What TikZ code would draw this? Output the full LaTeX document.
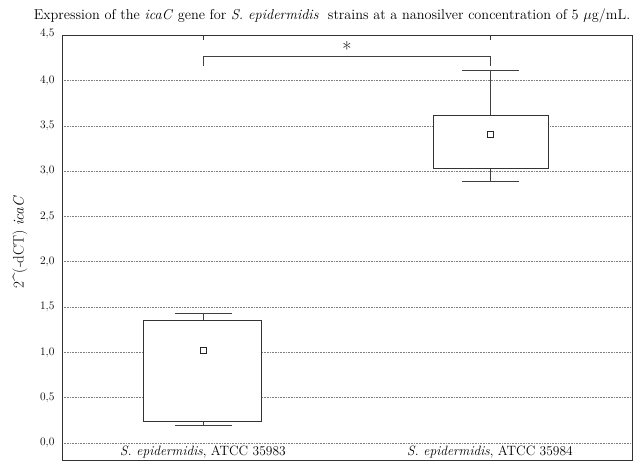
\documentclass[tikz,border=0pt]{standalone}
\begin{document}
\begin{tikzpicture}[x=1pt,y=1pt]
\useasboundingbox (0,0) rectangle (635,463);
\tikzset{grid/.style={gray,densely dotted,line width=0.6pt},
  boxplot/.style={draw=black!80,line width=0.9pt,fill=white},
  whisk/.style={black!75,line width=0.9pt},
  meanmark/.style={draw=black!85,line width=1pt,fill=white,minimum size=6pt,inner sep=0pt},
  ticklab/.style={left,font=\fontsize{11.5}{13}\selectfont}}
\node (title) at (332,447) {\fontsize{14.3}{16}\selectfont Expression of the \textit{icaC} gene for \textit{S. epidermidis}~ strains at a nanosilver concentration of 5 $\mu$g/mL.};
\node[rotate=90] (ylab) at (20,221) {\fontsize{15}{17}\selectfont 2\^{}(-dCT) \textit{icaC}};
\begin{scope}[shift={(0,20)},y=90.6pt]
% grid and axis labels
\foreach \v/\t in {0/0{,}0,0.5/0{,}5,1/1{,}0,1.5/1{,}5,2/2{,}0,2.5/2{,}5,3/3{,}0,3.5/3{,}5,4/4{,}0}
{ \draw[grid] (62,\v) -- (632,\v);
  \node[ticklab] at (58,\v) {\t}; }
\node[ticklab] at (58,4.52) {4{,}5};
\draw[black!80,line width=1pt] (62,-0.19) rectangle (632,4.5);
\draw[black!80] (203,4.5) -- (203,4.45) (490,4.5) -- (490,4.45);
% first strain
\draw[whisk] (203,0.19) -- (203,1.43);
\draw[whisk] (175,0.19) -- (232,0.19) (175,1.43) -- (232,1.43);
\draw[boxplot] (143,0.24) rectangle (261,1.35);
\node[meanmark] (m1) at (203,1.02) {};
% second strain
\draw[whisk] (490,2.89) -- (490,4.11);
\draw[whisk] (462,2.89) -- (519,2.89) (462,4.11) -- (519,4.11);
\draw[boxplot] (433,3.03) rectangle (548,3.62);
\node[meanmark] (m2) at (490,3.40) {};
% significance
\coordinate (b1) at (203,4.16);
\coordinate (b2) at (490,4.16);
\draw[whisk] (b1) -- ++(0,0.11) -| (b2);
\node[font=\fontsize{20}{22}\selectfont] (star) at (347,4.35) {*};
% strain labels
\node[font=\fontsize{13.5}{15}\selectfont] (s1) at (203,-0.10) {\textit{S. epidermidis}, ATCC 35983};
\node[font=\fontsize{13.5}{15}\selectfont] (s2) at (490,-0.10) {\textit{S. epidermidis}, ATCC 35984};
\end{scope}
\end{tikzpicture}
\end{document}
